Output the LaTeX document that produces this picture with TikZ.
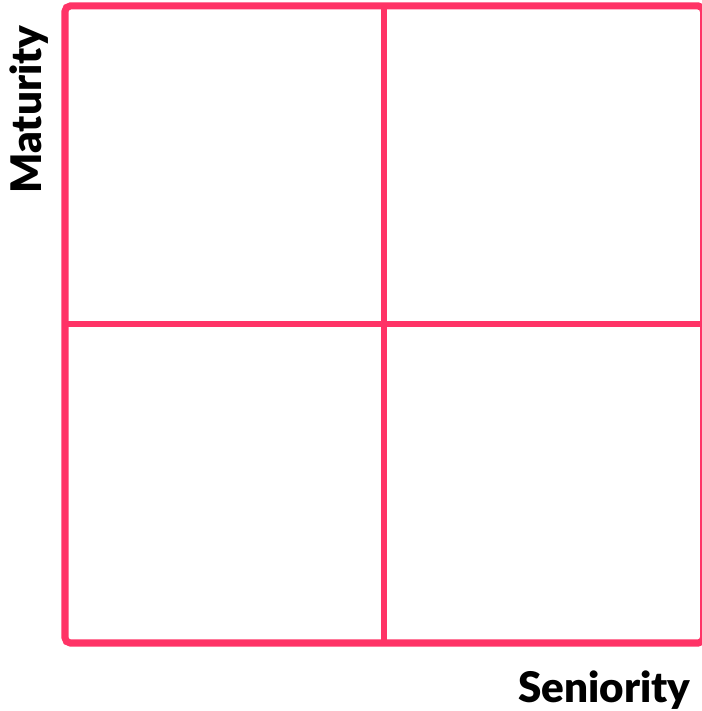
\documentclass[tikz,border=0pt]{standalone}
\usepackage{fontspec}
\setmainfont{Lato}[BoldFont={Lato Black}]
\usetikzlibrary{positioning}
\definecolor{quadpink}{HTML}{FF3366}

\begin{document}
\begin{tikzpicture}[
    frame/.style={draw=quadpink, line width=2pt, rounded corners=1.5pt},
    divider/.style={draw=quadpink, line width=1.6pt},
    axislabel/.style={font=\fontsize{12}{13}\selectfont\bfseries, inner sep=0pt}
]
\useasboundingbox (0,0) rectangle (7.01,7.11);

% Corners of the grid
\coordinate (sw) at (0.65,0.68);
\coordinate (ne) at (7.035,7.05);
\coordinate (midx) at (3.84,0.68);
\coordinate (midy) at (0.65,3.87);

% Quadrants
\draw[divider] (midx) -- (midx |- ne);
\draw[divider] (midy) -- (ne |- midy);
\draw[frame] (sw) rectangle (ne);

% Axis labels
\node[axislabel, anchor=base east] (seniority) at (6.91,0.09) {Seniority};
\node[axislabel, rotate=90, anchor=base east] (maturity) at (0.42,6.86) {Maturity};

\end{tikzpicture}
\end{document}
